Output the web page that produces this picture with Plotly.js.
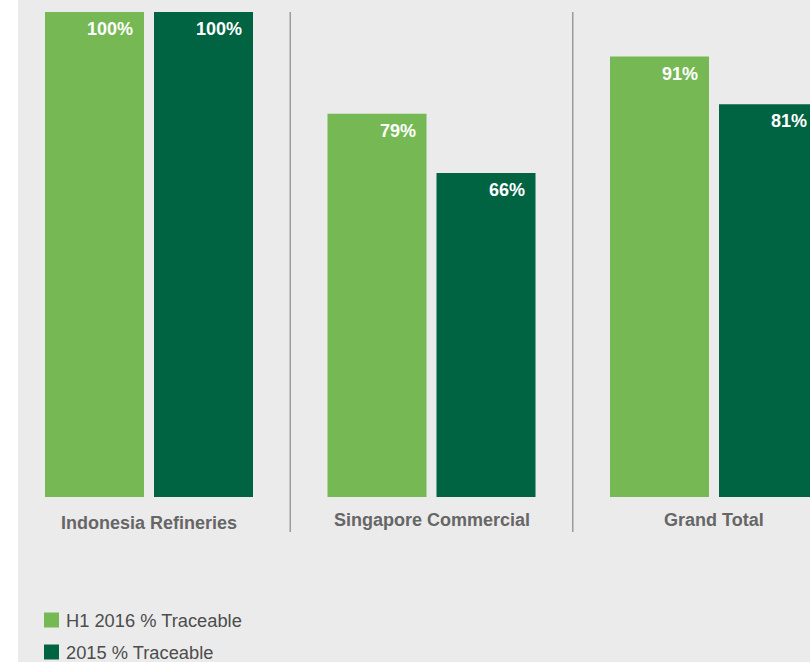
<!DOCTYPE html>
<html>
<head>
<meta charset="utf-8">
<script src="https://cdn.plot.ly/plotly-3.0.1.min.js"></script>
<style>html,body{margin:0;padding:0;background:#ebebeb;}#chart{width:810px;height:662px;}</style>
</head>
<body>
<div id="chart"></div>
<script>
const categories = ["Indonesia Refineries", "Singapore Commercial", "Grand Total"];
const seriesNames = ["H1 2016 % Traceable", "2015 % Traceable"];
const h1_2016 = [100, 79, 90.8];
const y2015 = [100, 66.8, 81];
const h1_2016Labels = ["100%", "79%", "91%"];
const y2015Labels = ["100%", "66%", "81%"];

const lightGreen = "#76b954";
const darkGreen = "#006342";
const W = 810, H = 662, mt = 12, mb = 165;
const plotH = H - mt - mb;
const py = p => (H - mb - p) / plotH;   // pixel y -> paper y
const px = p => p / W;                   // pixel x -> paper x

const xs = categories.map((c, i) => i);

const traces = [
  {type: "bar", x: xs, y: h1_2016, name: seriesNames[0], marker: {color: lightGreen}, hoverinfo: "none"},
  {type: "bar", x: xs, y: y2015, name: seriesNames[1], marker: {color: darkGreen}, hoverinfo: "none"}
];

const annotations = [];
const valueFont = {family: "Liberation Sans, Arial, sans-serif", size: 18, color: "#ffffff"};
[[h1_2016, h1_2016Labels, -14], [y2015, y2015Labels, 95]].forEach(([vals, labels, shift]) => {
  vals.forEach((v, i) => {
    annotations.push({
      x: i, y: v, xref: "x", yref: "y", text: "<b>" + labels[i] + "</b>", showarrow: false,
      xanchor: "right", yanchor: "middle", xshift: shift, yshift: -17, font: valueFont
    });
  });
});
const labelShift = [-3, 0, 0];
categories.forEach((c, i) => {
  annotations.push({
    x: i, y: py(519.5), xref: "x", yref: "paper", text: "<b>" + c + "</b>", showarrow: false,
    xanchor: "center", yanchor: "middle", yshift: labelShift[i],
    font: {family: "Liberation Sans, Arial, sans-serif", size: 18, color: "#666666"}
  });
});
// custom legend
const legendColors = [lightGreen, darkGreen];
const legendY = [620, 652];
const shapes = [
  {type: "rect", xref: "paper", yref: "paper", x0: 0, x1: px(18), y0: py(H), y1: py(0), fillcolor: "#ffffff", line: {width: 0}, layer: "below"}
];
seriesNames.forEach((n, k) => {
  shapes.push({type: "rect", xref: "paper", yref: "paper", x0: px(44), x1: px(59), y0: py(legendY[k] + 7.5), y1: py(legendY[k] - 7.5), fillcolor: legendColors[k], line: {width: 0}});
  annotations.push({x: px(64), y: py(legendY[k]), xref: "paper", yref: "paper", text: n, showarrow: false, xanchor: "left", yanchor: "middle",
    font: {family: "Liberation Sans, Arial, sans-serif", size: 18.3, color: "#4d4d4d"}});
});
[0.5, 1.5].forEach(xv => {
  shapes.push({type: "line", xref: "x", yref: "paper", x0: xv, x1: xv, y0: py(532), y1: py(12), line: {color: "#9b9b9b", width: 1.5}});
});

const spacing = 282.5;
const r0 = -149 / spacing;
const layout = {
  width: W, height: H,
  margin: {l: 0, r: 0, t: mt, b: mb, pad: 0},
  paper_bgcolor: "#ebebeb", plot_bgcolor: "rgba(0,0,0,0)",
  barmode: "group", bargap: 0.2283, bargroupgap: 0.0917,
  showlegend: false,
  xaxis: {range: [r0, r0 + W / spacing], showticklabels: false, showgrid: false, zeroline: false, showline: false, ticks: "", fixedrange: true},
  yaxis: {range: [0, 100], showticklabels: false, showgrid: false, zeroline: false, showline: false, ticks: "", fixedrange: true},
  annotations: annotations,
  shapes: shapes
};
Plotly.newPlot("chart", traces, layout, {displayModeBar: false, staticPlot: true});
</script>
</body>
</html>
